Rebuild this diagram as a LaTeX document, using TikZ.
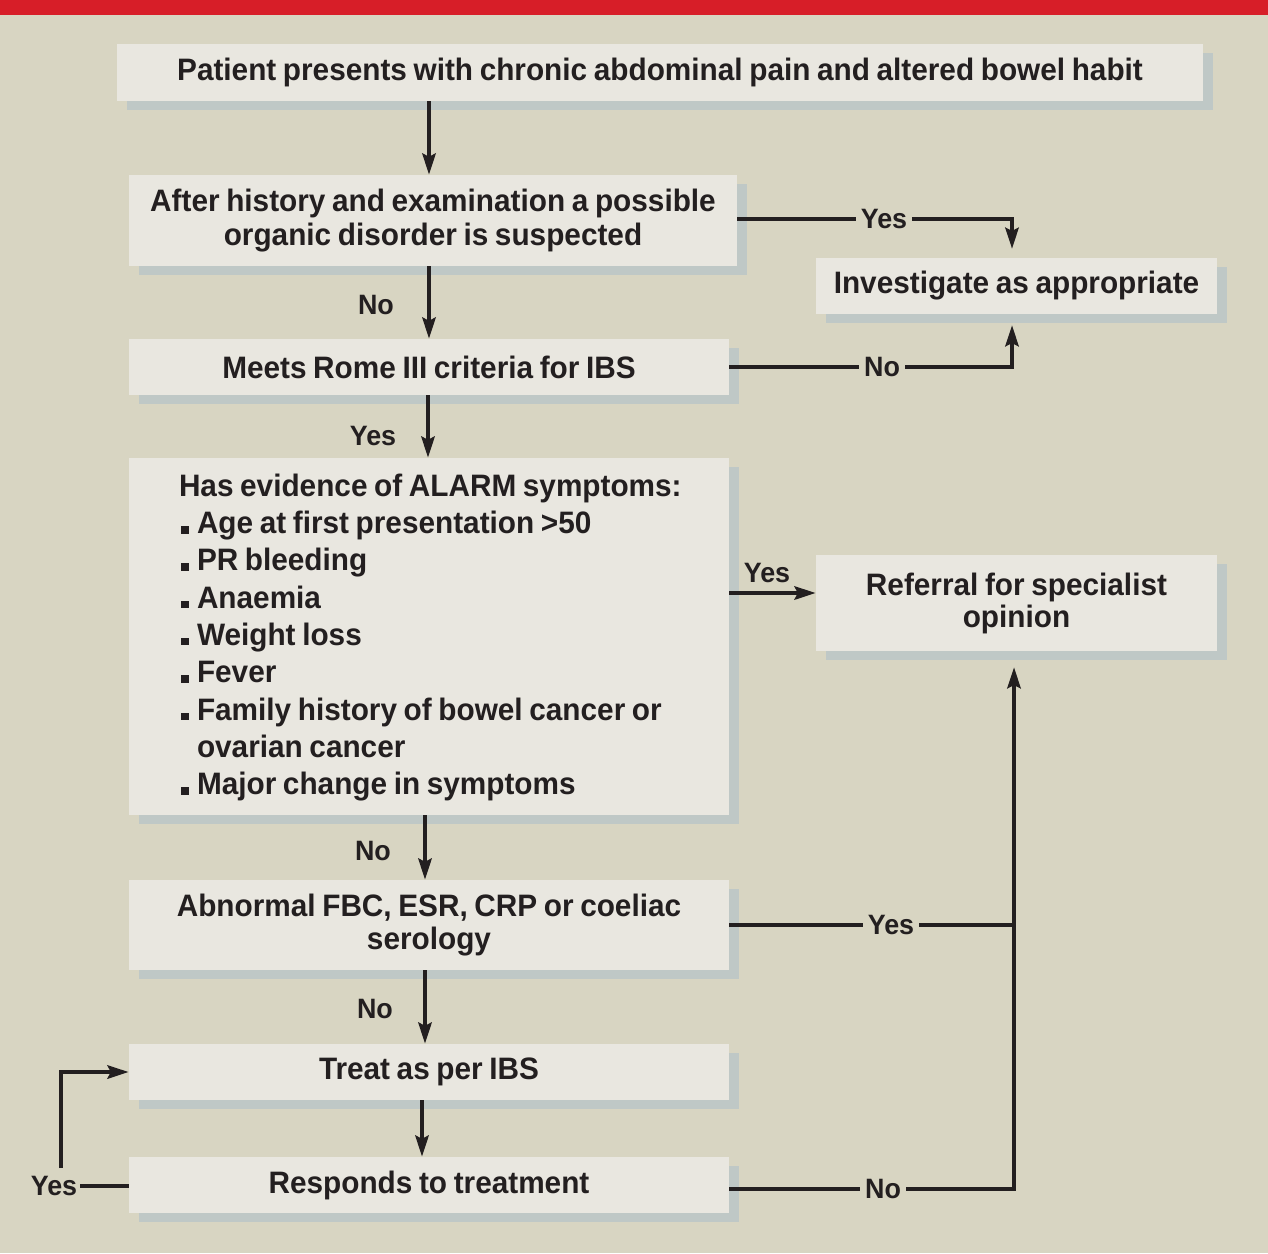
\documentclass[tikz,border=0pt]{standalone}
\usepackage{fontspec}
\setmainfont{Liberation Sans}[FakeStretch=0.96,WordSpace=0.8]
\usetikzlibrary{arrows.meta,shadows}
\definecolor{bgc}{HTML}{D8D5C2}
\definecolor{boxc}{HTML}{E9E7E0}
\definecolor{shc}{HTML}{BFC8C6}
\definecolor{redc}{HTML}{D71E28}
\definecolor{inkc}{HTML}{231F20}
\newcommand{\blt}{\makebox[18pt][l]{\hspace{2pt}\rule{8pt}{7.5pt}}}
\begin{document}
\begin{tikzpicture}[x=1pt,y=-1pt,
  box/.style={fill=boxc,inner sep=0pt,align=center,text=inkc,
    font=\fontsize{31}{34}\selectfont\bfseries,
    drop shadow={shadow xshift=10pt,shadow yshift=-9pt,opacity=1,fill=shc}},
  lbl/.style={inner sep=5pt,text=inkc,font=\fontsize{28}{32}\selectfont\bfseries},
  ln/.style={draw=inkc,line width=4.5pt},
  arr/.style={ln,-{Stealth[length=21pt,width=13pt,inset=3pt]}}]
\fill[bgc] (0,0) rectangle (1268,1253);
\useasboundingbox (0,0) rectangle (1268,1253);
\fill[redc] (0,0) rectangle (1268,15);
% boxes
\node[box,minimum width=1086pt,minimum height=57pt] (b1) at (660,72.5) {Patient presents with chronic abdominal pain and altered bowel habit};
\node[box,minimum width=608pt,minimum height=91pt] (b2) at (433,220.5) {After history and examination a possible\\organic disorder is suspected};
\node[box,minimum width=401pt,minimum height=56pt] (inv) at (1016.5,286) {Investigate as appropriate};
\node[box,minimum width=600pt,minimum height=56pt] (rome) at (429,367) {Meets Rome III criteria for IBS};
\node[box,minimum width=600pt,minimum height=357pt] (alarm) at (429,636.5) {};
\node[inner sep=0pt,anchor=west,align=left,text=inkc,
  font=\fontsize{31}{37.3}\selectfont\bfseries] (alarmtext) at ([xshift=50pt,yshift=-1pt]alarm.west) {Has evidence of ALARM symptoms:\\
\blt Age at first presentation >50\\
\blt PR bleeding\\
\blt Anaemia\\
\blt Weight loss\\
\blt Fever\\
\blt Family history of bowel cancer or\\
\hspace*{18pt}ovarian cancer\\
\blt Major change in symptoms};
\node[box,minimum width=401pt,minimum height=96pt,font=\fontsize{31}{32}\selectfont\bfseries] (ref) at (1016.5,603) {Referral for specialist\\opinion};
\node[box,minimum width=600pt,minimum height=90pt,font=\fontsize{31}{33}\selectfont\bfseries] (abn) at (429,925) {Abnormal FBC, ESR, CRP or coeliac\\serology};
\node[box,minimum width=600pt,minimum height=56pt] (treat) at (429,1072) {Treat as per IBS};
\node[box,minimum width=600pt,minimum height=56pt] (resp) at (429,1185) {Responds to treatment};
% labels
\node[lbl] (l1) at (376,305) {No};
\node[lbl] (l2) at (373,436) {Yes};
\node[lbl] (l3) at (373,851) {No};
\node[lbl] (l4) at (375,1009) {No};
\node[lbl] (y1) at (884,219) {Yes};
\node[lbl] (n1) at (882,367) {No};
\node[lbl] (y2) at (767,573) {Yes};
\node[lbl] (y3) at (891,925) {Yes};
\node[lbl] (n2) at (883,1189) {No};
\node[lbl,inner xsep=3pt] (y4) at (54,1186) {Yes};
\coordinate (invtop) at (1012,249);
\coordinate (invbot) at (1012,325);
\coordinate (refbot) at (1014,667);
% vertical flow
\draw[arr] (b1.south -| rome.north) -- (b2.north -| rome.north);
\draw[arr] (b2.south -| rome.north) -- (rome.north);
\draw[arr] ([xshift=-1pt]rome.south) -- ([xshift=-1pt]alarm.north);
\draw[arr] ([xshift=-4pt]alarm.south) -- ([xshift=-4pt]abn.north);
\draw[arr] ([xshift=-4pt]abn.south) -- ([xshift=-4pt]treat.north);
\draw[arr] ([xshift=-7pt]treat.south) -- ([xshift=-7pt]resp.north);
% right side
\draw[ln] (b2.east |- y1) -- (y1.west);
\draw[arr] (y1.east) -| (invtop);
\draw[ln] (rome.east |- n1) -- (n1.west);
\draw[arr] (n1.east) -| (invbot);
\draw[arr] (alarm.east |- 0,593) -- (ref.west |- 0,593);
\draw[ln] (abn.east) -- (y3.west);
\draw[ln] (y3.east) -- (y3.east -| refbot);
\draw[ln] (resp.east |- n2) -- (n2.west);
\draw[arr] (n2.east) -| (refbot);
% left loop
\draw[ln] (y4.east) -- (resp.west |- y4);
\draw[arr] ([xshift=7pt,yshift=3pt]y4.north) |- (treat.west);
\end{tikzpicture}
\end{document}
